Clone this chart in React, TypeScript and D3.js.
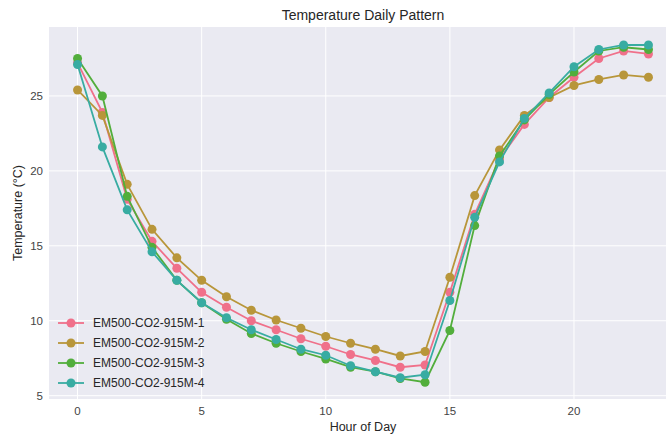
import React from 'react';
import * as d3 from 'd3';

// hours 0..23
const hours = d3.range(0, 24);

const seriesNames = ['EM500-CO2-915M-1', 'EM500-CO2-915M-2', 'EM500-CO2-915M-3', 'EM500-CO2-915M-4'];
const seriesColors = ['#f0708a', '#b8963a', '#52ae3c', '#38aca2'];

const temp1 = [27.2, 23.9, 18.1, 15.3, 13.5, 11.9, 10.9, 10.0, 9.4, 8.8, 8.3, 7.75, 7.35, 6.9, 7.05, 11.9, 17.1, 20.8, 23.1, 24.9, 26.25, 27.5, 28.0, 27.8];
const temp2 = [25.4, 23.7, 19.1, 16.1, 14.2, 12.7, 11.6, 10.7, 10.05, 9.5, 8.95, 8.5, 8.1, 7.65, 7.95, 12.9, 18.35, 21.4, 23.7, 24.9, 25.7, 26.1, 26.4, 26.25];
const temp3 = [27.5, 25.0, 18.3, 14.9, 12.7, 11.2, 10.1, 9.15, 8.5, 7.95, 7.45, 6.9, 6.6, 6.15, 5.9, 9.35, 16.35, 21.0, 23.4, 25.1, 26.6, 28.0, 28.25, 28.1];
const temp4 = [27.1, 21.6, 17.4, 14.6, 12.7, 11.2, 10.2, 9.4, 8.75, 8.1, 7.7, 7.0, 6.6, 6.2, 6.4, 11.35, 16.9, 20.6, 23.5, 25.2, 26.95, 28.1, 28.4, 28.4];
const seriesValues = [temp1, temp2, temp3, temp4];

const xTicks = [0, 5, 10, 15, 20];
const yTicks = [5, 10, 15, 20, 25];

const W = 666;
const H = 435;
const margin = { top: 27, left: 49, bottom: 36 };
const plotRight = 677; // axes run past the cropped edge

const font = '"Liberation Sans", Arial, sans-serif';

export default function App() {
  const x = d3.scaleLinear().domain([-1.15, 24.15]).range([margin.left, plotRight]);
  const y = d3.scaleLinear().domain([4.78, 29.6]).range([H - margin.bottom, margin.top]);

  const line = d3
    .line<number>()
    .x((_, i) => x(hours[i]))
    .y((d) => y(d));

  const plotH = H - margin.bottom - margin.top;

  return (
    <svg width={W} height={H} style={{ position: 'absolute', left: 0, top: 0 }} fontFamily={font}>
      <defs>
        <clipPath id="plot">
          <rect x={margin.left} y={margin.top} width={plotRight - margin.left} height={plotH} />
        </clipPath>
      </defs>
      <rect width={W} height={H} fill="#ffffff" />
      <rect x={margin.left} y={margin.top} width={plotRight - margin.left} height={plotH} fill="#eaeaf2" />

      {/* grid */}
      {xTicks.map((t) => (
        <line key={'gx' + t} x1={x(t)} x2={x(t)} y1={margin.top} y2={H - margin.bottom} stroke="#ffffff" strokeWidth={1} />
      ))}
      {yTicks.map((t) => (
        <line key={'gy' + t} x1={margin.left} x2={plotRight} y1={y(t)} y2={y(t)} stroke="#ffffff" strokeWidth={1} />
      ))}

      {/* series */}
      <g clipPath="url(#plot)">
        {seriesValues.map((vals, s) => (
          <g key={seriesNames[s]}>
            <path d={line(vals) || ''} fill="none" stroke={seriesColors[s]} strokeWidth={1.8} />
            {vals.map((v, i) => (
              <circle key={i} cx={x(hours[i])} cy={y(v)} r={4.5} fill={seriesColors[s]} />
            ))}
          </g>
        ))}
      </g>

      {/* tick labels */}
      {xTicks.map((t) => (
        <text key={'tx' + t} x={x(t)} y={H - margin.bottom + 16} textAnchor="middle" fontSize={11.5} fill="#444">
          {t}
        </text>
      ))}
      {yTicks.map((t) => (
        <text key={'ty' + t} x={margin.left - 6} y={y(t) + 4} textAnchor="end" fontSize={11.5} fill="#444">
          {t}
        </text>
      ))}

      {/* titles */}
      <text x={(margin.left + plotRight) / 2} y={20} textAnchor="middle" fontSize={14} fill="#262626">
        Temperature Daily Pattern
      </text>
      <text x={(margin.left + plotRight) / 2} y={431} textAnchor="middle" fontSize={12.5} fill="#262626">
        Hour of Day
      </text>
      <text
        transform={`translate(22, ${(margin.top + H - margin.bottom) / 2}) rotate(-90)`}
        textAnchor="middle"
        fontSize={12.5}
        fill="#262626"
      >
        Temperature (°C)
      </text>

      {/* legend */}
      {seriesNames.map((name, s) => {
        const ly = 323 + s * 20;
        return (
          <g key={'lg' + name}>
            <line x1={58} x2={84} y1={ly} y2={ly} stroke={seriesColors[s]} strokeWidth={1.8} />
            <circle cx={71} cy={ly} r={4.5} fill={seriesColors[s]} />
            <text x={93} y={ly + 4} fontSize={12} fill="#262626">
              {name}
            </text>
          </g>
        );
      })}
    </svg>
  );
}
